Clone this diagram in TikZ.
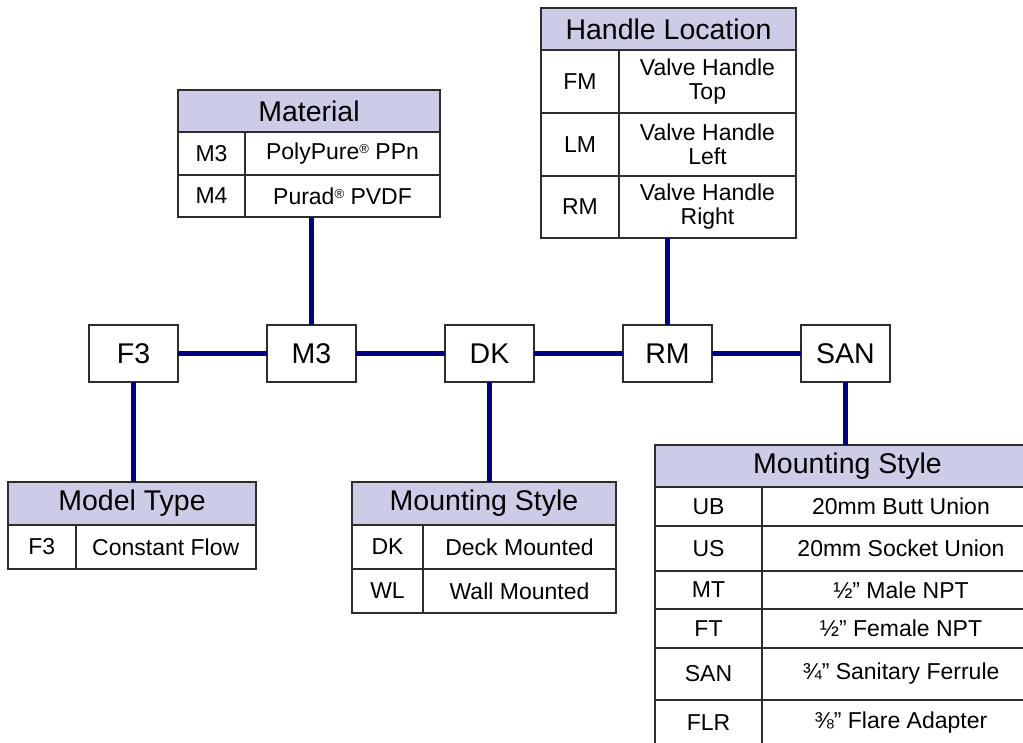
\documentclass[tikz,border=0pt]{standalone}
\usepackage{fontspec}
\setmainfont{Liberation Sans}
\usetikzlibrary{positioning}

\definecolor{linknavy}{RGB}{0,0,128}
\definecolor{cellborder}{RGB}{45,45,45}
\definecolor{headfill}{RGB}{204,204,230}

\newcommand{\regmark}{\raisebox{6pt}{\fontsize{13}{13}\selectfont\textregistered}}

\tikzset{
  codebox/.style={draw=cellborder, line width=2pt, fill=white, inner sep=0pt, outer sep=0pt,
    minimum width=89pt, minimum height=57pt, font=\fontsize{28.5}{30}\selectfont},
  link/.style={draw=linknavy, line width=4.5pt},
  headcell/.style={draw=cellborder, line width=2pt, fill=headfill, inner sep=0pt, outer sep=0pt,
    anchor=north west, font=\fontsize{28.5}{30}\selectfont},
  cell/.style={draw=cellborder, line width=2pt, fill=white, inner sep=0pt, outer sep=0pt,
    anchor=north west, align=center, font=\fontsize{23}{24}\selectfont},
}

\begin{document}
\begin{tikzpicture}[x=1pt, y=-1pt]
  \useasboundingbox (0,0) rectangle (1023,742);
  \clip (0,0) rectangle (1023,742);

  % part number boxes
  \node[codebox] (f3) at (133.5,353.5) {F3};
  \node[codebox, right=89pt of f3] (m3) {M3};
  \node[codebox, right=89pt of m3] (dk) {DK};
  \node[codebox, right=89pt of dk] (rm) {RM};
  \node[codebox, right=89pt of rm] (san) {SAN};

  % material
  \node[headcell, minimum width=262pt, minimum height=42pt] (mathead) at (178,90) {Material};
  \foreach \code/\desc/\ry/\rh in {M3/PolyPure\regmark{} PPn/132/43,
                                  M4/Purad\regmark{} PVDF/175/42} {
    \node[cell, minimum width=67pt, minimum height=\rh pt] (mat-\code) at (178,\ry) {\code};
    \node[cell, minimum width=195pt, minimum height=\rh pt] (mat-\code-d) at (245,\ry) {\desc};
  }

  % handle location
  \node[headcell, minimum width=255pt, minimum height=42pt] (hlhead) at (541,8) {Handle Location};
  \foreach \code/\desc/\ry/\rh in {FM/Valve Handle\\Top/50/63,
                                  LM/Valve Handle\\Left/113/63,
                                  RM/Valve Handle\\Right/176/62} {
    \node[cell, minimum width=78pt, minimum height=\rh pt] (hl-\code) at (541,\ry) {\code};
    \node[cell, minimum width=177pt, minimum height=\rh pt] (hl-\code-d) at (619,\ry) {\desc};
  }

  % model type
  \node[headcell, minimum width=248pt, minimum height=43pt] (mthead) at (8,482) {Model Type};
  \node[cell, minimum width=67.5pt, minimum height=44pt] (mt-F3) at (8,525) {F3};
  \node[cell, minimum width=180.5pt, minimum height=44pt] (mt-F3-d) at (75.5,525) {Constant Flow};

  % mounting style (deck / wall)
  \node[headcell, minimum width=264pt, minimum height=43pt] (dkmhead) at (352,482) {Mounting Style};
  \foreach \code/\desc/\ry in {DK/Deck Mounted/525, WL/Wall Mounted/569} {
    \node[cell, minimum width=71pt, minimum height=44pt] (dkm-\code) at (352,\ry) {\code};
    \node[cell, minimum width=193pt, minimum height=44pt] (dkm-\code-d) at (423,\ry) {\desc};
  }

  % mounting style (connections)
  \node[headcell, minimum width=385pt, minimum height=42pt] (sanmhead) at (655,445) {Mounting Style};
  \foreach \code/\desc/\ry/\rh in {UB/20mm Butt Union/487/39,
                                  US/20mm Socket Union/526/45,
                                  MT/½” Male NPT/571/38,
                                  FT/½” Female NPT/609/39,
                                  SAN/¾” Sanitary Ferrule/648/52,
                                  FLR/⅜” Flare Adapter/700/45} {
    \node[cell, minimum width=107pt, minimum height=\rh pt] (sanm-\code) at (655,\ry) {\code};
    \node[cell, minimum width=278pt, minimum height=\rh pt] (sanm-\code-d) at (762,\ry) {\desc};
  }

  % connectors
  \draw[link] (f3) -- (m3) (m3) -- (dk) (dk) -- (rm) (rm) -- (san);
  \draw[link] (m3.north) -- (m3.north |- mat-M4.south);
  \draw[link] (rm.north) -- (rm.north |- hl-RM.south);
  \draw[link] (f3.south) -- (f3.south |- mthead.north);
  \draw[link] (dk.south) -- (dk.south |- dkmhead.north);
  \draw[link] (san.south) -- (san.south |- sanmhead.north);
\end{tikzpicture}
\end{document}
